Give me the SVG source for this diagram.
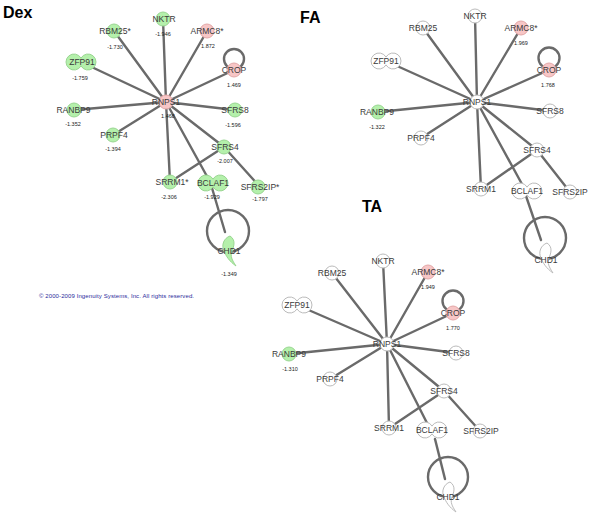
<svg xmlns="http://www.w3.org/2000/svg" xmlns:xlink="http://www.w3.org/1999/xlink" width="600" height="521" viewBox="0 0 600 521">
<style>
.e{stroke:#6a6a6a;stroke-width:2.4;fill:none;stroke-linecap:round}
.w{fill:#fff;stroke:#bbbbbb;stroke-width:1}
.g{fill:#b4f0ab;stroke:#9ad692;stroke-width:1}
.p{fill:#f7c6c6;stroke:#e3a8a8;stroke-width:1}
text{font-family:"Liberation Sans",Arial,sans-serif;text-anchor:middle}
.lb{font-size:8.5px;fill:#3a3a3a}
.v{font-size:5.5px;fill:#222}
.t{font-size:16px;font-weight:bold;fill:#000;text-anchor:start}
.cp{font-size:6px;fill:#2b2b9b;text-anchor:start}
</style>
<defs>
<path id="pn" d="M0,-3.9 A8,8 0 1 0 0,3.9 A8,8 0 1 0 0,-3.9 Z"/>
<path id="cs" d="M2,5 C-4,7 -7,14 -4,20 C-2,25 1,30 8,35 C4,29 2,25 4,20 C6,15 8,9 2,5 Z"/>
</defs>
<rect width="600" height="521" fill="#fff"/>

<!-- ===== Dex ===== -->
<text class="t" x="3" y="17.5">Dex</text>
<g id="dex-edges">
<line class="e" x1="166" y1="102" x2="114" y2="31"/>
<line class="e" x1="166" y1="102" x2="81" y2="62"/>
<line class="e" x1="166" y1="102" x2="163" y2="19"/>
<line class="e" x1="166" y1="102" x2="207" y2="31"/>
<line class="e" x1="166" y1="102" x2="234" y2="70"/>
<line class="e" x1="166" y1="102" x2="74" y2="110"/>
<line class="e" x1="166" y1="102" x2="113" y2="135"/>
<line class="e" x1="166" y1="102" x2="235" y2="110"/>
<line class="e" x1="166" y1="102" x2="224" y2="147"/>
<line class="e" x1="166" y1="102" x2="170" y2="182"/>
<line class="e" x1="166" y1="102" x2="209" y2="180"/>
<line class="e" x1="224" y1="147" x2="170" y2="182"/>
<line class="e" x1="224" y1="147" x2="260" y2="187"/>
<line class="e" x1="212" y1="188" x2="225" y2="232"/>
<circle class="e" cx="234" cy="59" r="10"/>
<circle class="e" cx="228" cy="231" r="21"/>
</g>
<g id="dex-RBM25"><circle class="g" cx="114" cy="31" r="7"/><text class="lb" x="115" y="34">RBM25*</text><text class="v" x="115" y="49">-1.730</text></g>
<g id="dex-ZFP91"><use href="#pn" x="81" y="62" class="g"/><text class="lb" x="82" y="65">ZFP91</text><text class="v" x="80" y="80">-1.759</text></g>
<g id="dex-NKTR"><circle class="g" cx="163" cy="19" r="7"/><text class="lb" x="164" y="22">NKTR</text><text class="v" x="163" y="36">-1.946</text></g>
<g id="dex-ARMC8"><circle class="p" cx="207" cy="31" r="7"/><text class="lb" x="207" y="34">ARMC8*</text><text class="v" x="208" y="48">1.872</text></g>
<g id="dex-CROP"><circle class="p" cx="234" cy="70" r="7"/><text class="lb" x="234" y="73">CROP</text><text class="v" x="234" y="87">1.469</text></g>
<g id="dex-RNPS1"><circle class="p" cx="166" cy="102" r="7"/><text class="lb" x="166" y="105">RNPS1</text><text class="v" x="168" y="118">1.468</text></g>
<g id="dex-RANBP9"><circle class="g" cx="74" cy="110" r="7"/><text class="lb" x="73.5" y="113">RANBP9</text><text class="v" x="73" y="126">-1.352</text></g>
<g id="dex-PRPF4"><circle class="g" cx="113" cy="135" r="7"/><text class="lb" x="114" y="138">PRPF4</text><text class="v" x="113" y="151">-1.394</text></g>
<g id="dex-SFRS8"><circle class="g" cx="235" cy="110" r="7"/><text class="lb" x="235" y="113">SFRS8</text><text class="v" x="233" y="127">-1.596</text></g>
<g id="dex-SFRS4"><circle class="g" cx="224" cy="147" r="7"/><text class="lb" x="225" y="150">SFRS4</text><text class="v" x="225" y="163">-2.007</text></g>
<g id="dex-SRRM1"><circle class="g" cx="170" cy="182" r="7"/><text class="lb" x="172" y="185">SRRM1*</text><text class="v" x="169" y="199">-2.306</text></g>
<g id="dex-BCLAF1"><use href="#pn" x="213" y="183" class="g"/><text class="lb" x="213" y="186">BCLAF1</text><text class="v" x="212" y="199">-1.929</text></g>
<g id="dex-SFRS2IP"><circle class="g" cx="258" cy="187" r="7"/><text class="lb" x="260" y="190">SFRS2IP*</text><text class="v" x="260" y="201">-1.797</text></g>
<g id="dex-CHD1"><use href="#cs" x="228" y="231" class="g"/><text class="lb" x="229" y="254">CHD1</text><text class="v" x="229" y="276">-1.349</text></g>
<text class="cp" x="39" y="297.5" textLength="155">© 2000-2009 Ingenuity Systems, Inc. All rights reserved.</text>

<!-- ===== FA ===== -->
<text class="t" x="300" y="23">FA</text>
<g id="fa-edges">
<line class="e" x1="477" y1="102" x2="423" y2="28"/>
<line class="e" x1="477" y1="102" x2="386" y2="61"/>
<line class="e" x1="477" y1="102" x2="475" y2="16"/>
<line class="e" x1="477" y1="102" x2="521" y2="28"/>
<line class="e" x1="477" y1="102" x2="549" y2="70"/>
<line class="e" x1="477" y1="102" x2="378" y2="112"/>
<line class="e" x1="477" y1="102" x2="421" y2="138"/>
<line class="e" x1="477" y1="102" x2="550" y2="111"/>
<line class="e" x1="477" y1="102" x2="537" y2="150"/>
<line class="e" x1="477" y1="102" x2="481" y2="189"/>
<line class="e" x1="477" y1="102" x2="523" y2="186"/>
<line class="e" x1="537" y1="150" x2="481" y2="189"/>
<line class="e" x1="537" y1="150" x2="570" y2="192"/>
<line class="e" x1="526" y1="196" x2="541" y2="240"/>
<circle class="e" cx="549" cy="58" r="10.5"/>
<circle class="e" cx="545" cy="238" r="21"/>
</g>
<g id="fa-RBM25"><circle class="w" cx="423" cy="28" r="7"/><text class="lb" x="423" y="31">RBM25</text></g>
<g id="fa-ZFP91"><use href="#pn" x="386" y="61" class="w"/><text class="lb" x="386" y="64">ZFP91</text></g>
<g id="fa-NKTR"><circle class="w" cx="475" cy="16" r="7"/><text class="lb" x="475" y="19">NKTR</text></g>
<g id="fa-ARMC8"><circle class="p" cx="521" cy="28" r="7"/><text class="lb" x="521" y="31">ARMC8*</text><text class="v" x="521" y="45">1.969</text></g>
<g id="fa-CROP"><circle class="p" cx="549" cy="70" r="7"/><text class="lb" x="549" y="73">CROP</text><text class="v" x="548" y="87">1.768</text></g>
<g id="fa-RNPS1"><circle class="w" cx="477" cy="102" r="7"/><text class="lb" x="477" y="105">RNPS1</text></g>
<g id="fa-RANBP9"><circle class="g" cx="378" cy="112" r="7"/><text class="lb" x="377" y="115">RANBP9</text><text class="v" x="377" y="129">-1.322</text></g>
<g id="fa-PRPF4"><circle class="w" cx="421" cy="138" r="7"/><text class="lb" x="421" y="141">PRPF4</text></g>
<g id="fa-SFRS8"><circle class="w" cx="550" cy="111" r="7"/><text class="lb" x="550" y="114">SFRS8</text></g>
<g id="fa-SFRS4"><circle class="w" cx="537" cy="150" r="7"/><text class="lb" x="537" y="153">SFRS4</text></g>
<g id="fa-SRRM1"><circle class="w" cx="481" cy="189" r="7"/><text class="lb" x="481" y="192">SRRM1</text></g>
<g id="fa-BCLAF1"><use href="#pn" x="527" y="191" class="w"/><text class="lb" x="527" y="194">BCLAF1</text></g>
<g id="fa-SFRS2IP"><circle class="w" cx="570" cy="192" r="7"/><text class="lb" x="570" y="195">SFRS2IP</text></g>
<g id="fa-CHD1"><use href="#cs" x="545" y="238" class="w"/><text class="lb" x="546" y="263">CHD1</text></g>

<!-- ===== TA ===== -->
<text class="t" x="362" y="211.5">TA</text>
<g id="ta-edges">
<line class="e" x1="387" y1="344" x2="332" y2="273"/>
<line class="e" x1="387" y1="344" x2="297" y2="305"/>
<line class="e" x1="387" y1="344" x2="383" y2="261"/>
<line class="e" x1="387" y1="344" x2="428" y2="272"/>
<line class="e" x1="387" y1="344" x2="453" y2="313"/>
<line class="e" x1="387" y1="344" x2="289" y2="354"/>
<line class="e" x1="387" y1="344" x2="330" y2="379"/>
<line class="e" x1="387" y1="344" x2="456" y2="353"/>
<line class="e" x1="387" y1="344" x2="444" y2="391"/>
<line class="e" x1="387" y1="344" x2="389" y2="428"/>
<line class="e" x1="387" y1="344" x2="428" y2="425"/>
<line class="e" x1="444" y1="391" x2="389" y2="428"/>
<line class="e" x1="444" y1="391" x2="480" y2="431"/>
<line class="e" x1="435" y1="439" x2="445" y2="479"/>
<circle class="e" cx="453" cy="301" r="10.5"/>
<circle class="e" cx="448" cy="477" r="20"/>
</g>
<g id="ta-RBM25"><circle class="w" cx="332" cy="273" r="7"/><text class="lb" x="332" y="276">RBM25</text></g>
<g id="ta-ZFP91"><use href="#pn" x="297" y="305" class="w"/><text class="lb" x="297" y="308">ZFP91</text></g>
<g id="ta-NKTR"><circle class="w" cx="383" cy="261" r="7"/><text class="lb" x="383" y="264">NKTR</text></g>
<g id="ta-ARMC8"><circle class="p" cx="428" cy="272" r="7"/><text class="lb" x="428" y="275">ARMC8*</text><text class="v" x="428" y="289">1.949</text></g>
<g id="ta-CROP"><circle class="p" cx="453" cy="313" r="7"/><text class="lb" x="453" y="316">CROP</text><text class="v" x="453" y="330">1.770</text></g>
<g id="ta-RNPS1"><circle class="w" cx="387" cy="344" r="7"/><text class="lb" x="387" y="347">RNPS1</text></g>
<g id="ta-RANBP9"><circle class="g" cx="289" cy="354" r="7"/><text class="lb" x="289" y="357">RANBP9</text><text class="v" x="290" y="371">-1.310</text></g>
<g id="ta-PRPF4"><circle class="w" cx="330" cy="379" r="7"/><text class="lb" x="330" y="382">PRPF4</text></g>
<g id="ta-SFRS8"><circle class="w" cx="456" cy="353" r="7"/><text class="lb" x="456" y="356">SFRS8</text></g>
<g id="ta-SFRS4"><circle class="w" cx="444" cy="391" r="7"/><text class="lb" x="444" y="394">SFRS4</text></g>
<g id="ta-SRRM1"><circle class="w" cx="389" cy="428" r="7"/><text class="lb" x="389" y="431">SRRM1</text></g>
<g id="ta-BCLAF1"><use href="#pn" x="432" y="430" class="w"/><text class="lb" x="432" y="433">BCLAF1</text></g>
<g id="ta-SFRS2IP"><circle class="w" cx="480" cy="431" r="7"/><text class="lb" x="481" y="434">SFRS2IP</text></g>
<g id="ta-CHD1"><use href="#cs" x="448" y="477" class="w"/><text class="lb" x="448" y="500">CHD1</text></g>
</svg>
